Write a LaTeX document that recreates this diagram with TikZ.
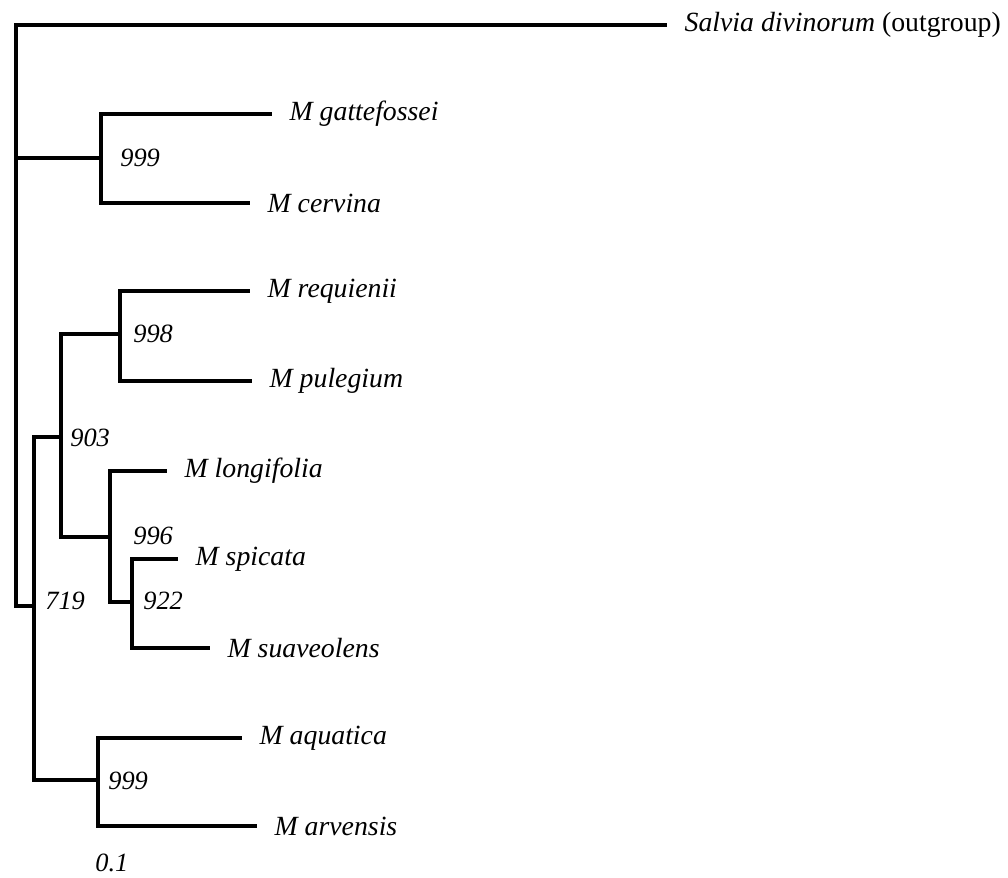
\documentclass[tikz,border=0pt]{standalone}
\usepackage{fontspec}
\setmainfont{Liberation Serif}
\usepackage{tikz}
\usetikzlibrary{calc,positioning}
\tikzstyle{branch} = [line width=2pt, line cap=rect]
\tikzstyle{taxon} = [anchor=west, inner xsep=11pt, inner ysep=0pt,
    font=\fontsize{15.8}{18}\selectfont\itshape]
\tikzstyle{boot} = [anchor=west, inner sep=0pt,
    font=\fontsize{15}{18}\selectfont\itshape]

\begin{document}
\begin{tikzpicture}[x=0.02cm, y=-0.02cm]
        \useasboundingbox (0,0) rectangle (1008,877);
        % internal nodes
        \coordinate (Root) at (16,158);
        \coordinate (NodeA) at (101,158); %gattefossei + cervina
        \coordinate (Node719) at (34,606);
        \coordinate (Node903) at (61,437);
        \coordinate (Node998) at (120,334);
        \coordinate (Node996) at (110,537);
        \coordinate (Node922) at (132,602);
        \coordinate (Node999) at (98,780);
        % taxa
        \node[taxon] (Salvia) at (665,25) {Salvia divinorum \upshape(outgroup)};
        \node[taxon] (Gattefossei) at (270,114) {M gattefossei};
        \node[taxon] (Cervina) at (248,203) {M cervina};
        \node[taxon] (Requienii) at (248,291) {M requienii};
        \node[taxon] (Pulegium) at (250,381) {M pulegium};
        \node[taxon] (Longifolia) at (165,471) {M longifolia};
        \node[taxon] (Spicata) at (176,559) {M spicata};
        \node[taxon] (Suaveolens) at (208,648) {M suaveolens};
        \node[taxon] (Aquatica) at (240,738) {M aquatica};
        \node[taxon] (Arvensis) at (255,826) {M arvensis};
        % branches
        \draw[branch] (Root |- Salvia) -- (Salvia.west); %outgroup
        \draw[branch] (Root |- Salvia) -- (Root |- Node719); %root
        \draw[branch] (Root) -- (NodeA);
        \draw[branch] (NodeA) |- (Gattefossei.west);
        \draw[branch] (NodeA) |- (Cervina.west);
        \draw[branch] (Root |- Node719) -- (Node719);
        \draw[branch] (Node719) |- (Node903);
        \draw[branch] (Node719) |- (Node999);
        \draw[branch] (Node903) |- (Node998);
        \draw[branch] (Node903) |- (Node996);
        \draw[branch] (Node998) |- (Requienii.west);
        \draw[branch] (Node998) |- (Pulegium.west);
        \draw[branch] (Node996) |- (Longifolia.west);
        \draw[branch] (Node996) |- (Node922);
        \draw[branch] (Node922) |- (Spicata.west);
        \draw[branch] (Node922) |- (Suaveolens.west);
        \draw[branch] (Node999) |- (Aquatica.west);
        \draw[branch] (Node999) |- (Arvensis.west);
        % bootstrap values
        \node[boot] (BootA) at (120,158) {999};
        \node[boot] (Boot998) at (133,334) {998};
        \node[boot] (Boot903) at (70,438) {903};
        \node[boot] (Boot996) at (133,536) {996};
        \node[boot] (Boot922) at (143,601) {922};
        \node[boot] (Boot719) at (45,601) {719};
        \node[boot] (Boot999) at (108,781) {999};
        \node[boot] (Scale) at (95,863) {0.1}; %scale
    \end{tikzpicture}
\end{document}
